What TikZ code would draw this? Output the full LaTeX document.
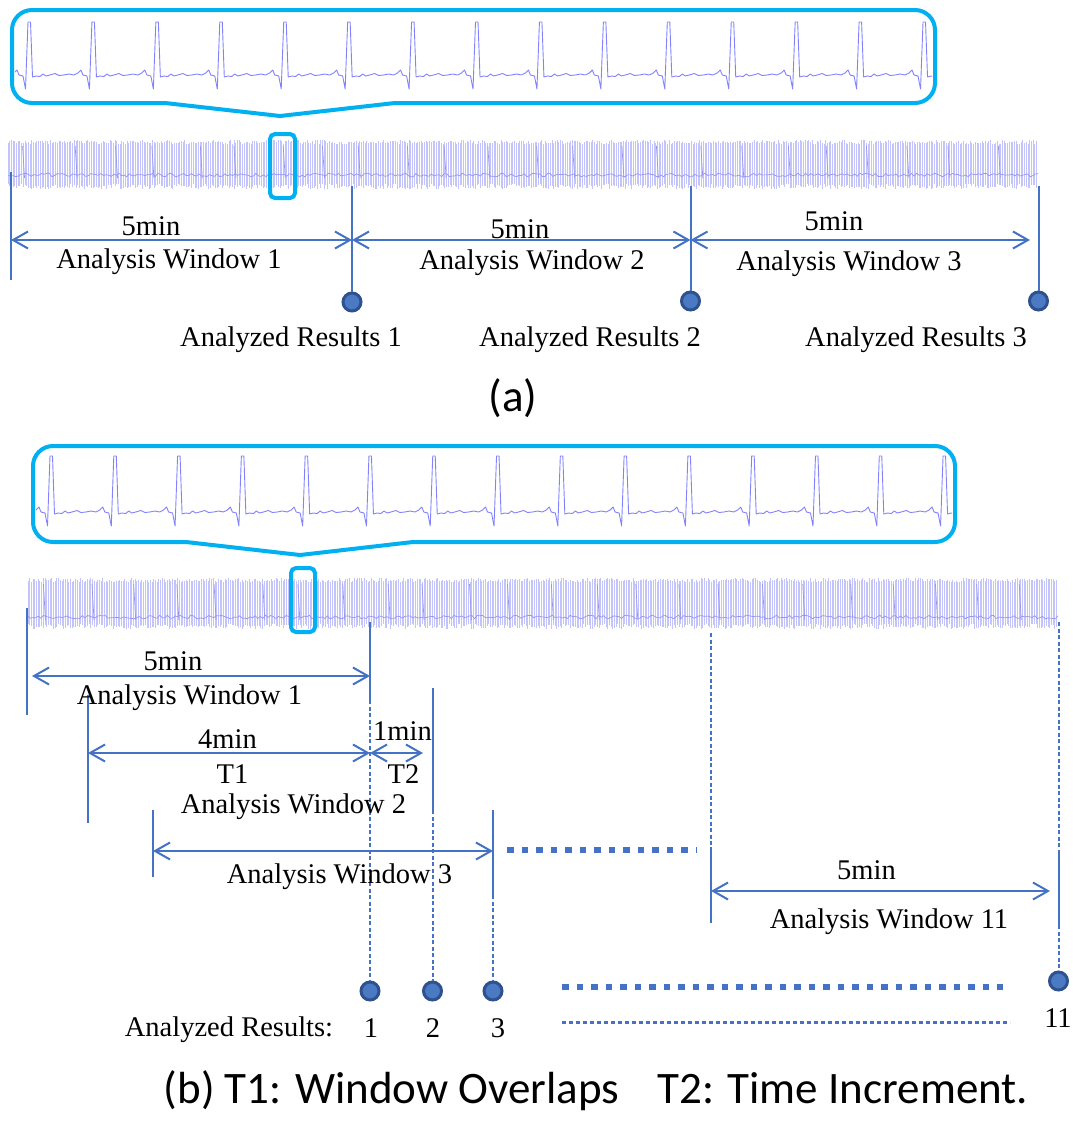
\documentclass[tikz,border=0pt]{standalone}
\usepackage{fontspec}
\setmainfont{Liberation Serif}
\newfontfamily\capfont{Carlito}
\usetikzlibrary{arrows.meta}

\definecolor{dimblue}{RGB}{68,114,196}
\definecolor{cyanbox}{RGB}{0,176,240}
\definecolor{ecg}{RGB}{130,130,255}
\definecolor{stripc}{RGB}{196,196,252}
\definecolor{stripd}{RGB}{150,150,242}
\definecolor{dotedge}{RGB}{47,82,143}
\definecolor{dotfill}{RGB}{74,122,196}

\tikzset{
  lbl/.style={anchor=base, inner sep=0pt, font=\fontsize{28.5}{34}\selectfont},
  caplbl/.style={anchor=base, inner sep=0pt, font=\capfont\fontsize{45}{50}\selectfont},
  dimline/.style={draw=dimblue, line width=2pt,
    {Straight Barb[length=15pt,width=17pt]}-{Straight Barb[length=15pt,width=17pt]}},
  marker/.style={draw=dimblue, line width=2pt},
  dashmarker/.style={draw=dimblue, line width=2pt, dash pattern=on 4pt off 2.5pt},
  result/.style={circle, draw=dotedge, fill=dotfill, line width=3pt, minimum size=18pt, inner sep=0pt},
  callout/.style={draw=cyanbox, line width=4pt, line join=round},
  zoombox/.style={draw=cyanbox, line width=4pt, rounded corners=5pt},
  trace/.style={draw=ecg, line width=0.9pt, line join=round},
  stripline/.style={draw=stripc, line width=0.9pt},
  stripwave/.style={draw=stripd, line width=0.7pt},
  bigdots/.style={draw=dimblue, line width=6.5pt, dash pattern=on 6.5pt off 8pt},
  smalldots/.style={draw=dimblue, line width=3pt, dash pattern=on 4pt off 3pt},
}

% one heartbeat: R-wave x, baseline y, R-peak y
\newcommand\heartbeat[3]{%
  \draw[trace] ({#1-20},#2) -- ({#1-16},{#2-2}) -- ({#1-13},{#2-5}) -- ({#1-11},#2)
    -- ({#1-7},{#2+1}) -- ({#1-4.5},{#2+14}) -- ({#1-2},#3) -- ({#1+0.5},#3)
    -- ({#1+2.5},{#2+2}) -- ({#1+6},{#2+1}) -- ({#1+10},{#2+1.5}) -- ({#1+13},{#2-1})
    -- ({#1+16},{#2+1}) -- ({#1+20},#2) -- ({#1+25},{#2-1.5}) -- ({#1+29},{#2+0.5})
    -- ({#1+34},#2) -- ({#1+39},{#2-1}) -- ({#1+43.9},#2);
}

% compressed long recording: first x, second x, last x, top y, bottom y, baseline y, spikes
\newcommand\ecgstrip[7]{%
  \foreach \xx in {#1,#2,...,#3}{
    \pgfmathsetmacro\ytop{#4+4*rnd}
    \pgfmathsetmacro\ybot{#5-5*rnd}
    \draw[stripline] (\xx,\ytop) -- (\xx,\ybot);
  }
  \draw[stripwave] plot[domain=#1:#3, samples=400] (\x,{#6+1.8*rand});
  \foreach \k in {0,...,#7}{
    \pgfmathsetmacro\sx{#1+14+42*\k+12*rnd}
    \draw[stripwave] (\sx,{#4+6}) -- ({\sx+2},{#6+3});
  }
}

\begin{document}
\begin{tikzpicture}[x=1pt,y=-1pt]
\useasboundingbox (0,0) rectangle (1073,1127);
\pgfmathsetseed{11}

% ---------------- (a) consecutive windows ----------------
\begin{scope}
  \clip (15,0) rectangle (932,120);
  \foreach \i in {0,...,14}{\heartbeat{30+63.93*\i}{75}{22}}
\end{scope}
\draw[callout] (165,103) -- (32,103) .. controls (21,103) and (12,94) .. (12,83)
  -- (12,30) .. controls (12,19) and (21,10) .. (32,10)
  -- (915,10) .. controls (926,10) and (935,19) .. (935,30)
  -- (935,83) .. controls (935,94) and (926,103) .. (915,103)
  -- (395,103) -- (280,116) -- cycle;

\ecgstrip{8}{9.7}{1038}{140}{189}{175}{23}
\draw[zoombox] (270,134) rectangle (295,198);

\coordinate (a0) at (11,240);
\coordinate (a1) at (352,240);
\coordinate (a2) at (690.5,240);
\coordinate (a3) at (1030,240);
\coordinate (a0t) at (11,172);
\coordinate (a0b) at (11,280);
\coordinate (a1t) at (352,186);
\coordinate (a2t) at (690.5,186);
\coordinate (a3t) at (1038.5,186);

\node[result] (ra1) at (352,302) {};
\node[result] (ra2) at (690.5,301) {};
\node[result] (ra3) at (1038.5,301) {};

\draw[marker] (a0t) -- (a0b);
\draw[marker] (a1t) -- (ra1);
\draw[marker] (a2t) -- (ra2);
\draw[marker] (a3t) -- (ra3);

\draw[dimline] (a0) -- (a1);
\draw[dimline] (a1) -- (a2);
\draw[dimline] (a2) -- (a3);

\node[lbl] (min1a) at (151,235) {5min};
\node[lbl] (win1a) at (169,268) {Analysis Window 1};
\node[lbl] (min2a) at (520,238) {5min};
\node[lbl] (win2a) at (532,269) {Analysis Window 2};
\node[lbl] (min3a) at (834,230) {5min};
\node[lbl] (win3a) at (849,270) {Analysis Window 3};
\node[lbl] (res1a) at (291,346) {Analyzed Results 1};
\node[lbl] (res2a) at (590,346) {Analyzed Results 2};
\node[lbl] (res3a) at (916,346) {Analyzed Results 3};
\node[caplbl] (capa) at (513,411) {(a)};

% ---------------- (b) overlapping windows ----------------
\begin{scope}
  \clip (36,430) rectangle (952,560);
  \foreach \i in {0,...,14}{\heartbeat{52+63.79*\i}{512}{456}}
\end{scope}
\draw[callout] (186,542) -- (53,542) .. controls (42,542) and (33,533) .. (33,522)
  -- (33,466) .. controls (33,455) and (42,446) .. (53,446)
  -- (935,446) .. controls (946,446) and (955,455) .. (955,466)
  -- (955,522) .. controls (955,533) and (946,542) .. (935,542)
  -- (413,542) -- (300,555) -- cycle;

\ecgstrip{28}{29.7}{1058}{578}{629}{617}{23}
\draw[zoombox] (291,568) rectangle (315,632);

% window boundaries
\coordinate (w1l) at (27,608);   \coordinate (w1lb) at (27,715);
\coordinate (w1r) at (370,622);  \coordinate (w1rm) at (370,700);
\coordinate (w2l) at (88,695);   \coordinate (w2lb) at (88,823);
\coordinate (w2r) at (432.5,688); \coordinate (w2rm) at (432.5,810);
\coordinate (w3l) at (153,810);  \coordinate (w3lb) at (153,877);
\coordinate (w3r) at (493,810);  \coordinate (w3rm) at (493,895);
\coordinate (w11l) at (711,633); \coordinate (w11lm) at (711,847); \coordinate (w11lb) at (711,923);
\coordinate (w11r) at (1058.5,622); \coordinate (w11rm) at (1058.5,850); \coordinate (w11rb) at (1058.5,925);

\node[result] (rb1) at (370,991) {};
\node[result] (rb2) at (432.5,991) {};
\node[result] (rb3) at (493,991) {};
\node[result] (rb11) at (1058.5,981) {};

\draw[marker] (w1l) -- (w1lb);
\draw[marker] (w1r) -- (w1rm);
\draw[dashmarker] (w1rm) -- (rb1);
\draw[marker] (w2l) -- (w2lb);
\draw[marker] (w2r) -- (w2rm);
\draw[dashmarker] (w2rm) -- (rb2);
\draw[marker] (w3l) -- (w3lb);
\draw[marker] (w3r) -- (w3rm);
\draw[dashmarker] (w3rm) -- (rb3);
\draw[dashmarker] (w11l) -- (w11lm);
\draw[marker] (w11lm) -- (w11lb);
\draw[dashmarker] (w11r) -- (w11rm);
\draw[marker] (w11rm) -- (w11rb);
\draw[dashmarker] (w11rb) -- (rb11);

% dimension arrows
\coordinate (d1a) at (32,676);   \coordinate (d1b) at (370,676);
\coordinate (d2a) at (88,753);   \coordinate (d2b) at (370,753);  \coordinate (d2c) at (423,753);
\coordinate (d3a) at (153,851);  \coordinate (d3b) at (493,851);
\coordinate (d11a) at (711,891); \coordinate (d11b) at (1050,891);
\draw[dimline] (d1a) -- (d1b);
\draw[dimline] (d2a) -- (d2b);
\draw[dimline] (d2b) -- (d2c);
\draw[dimline] (d3a) -- (d3b);
\draw[dimline] (d11a) -- (d11b);

% ellipsis lines
\coordinate (e1a) at (507,850);  \coordinate (e1b) at (697,850);
\coordinate (e2a) at (562,987);  \coordinate (e2b) at (1003,987);
\coordinate (e3a) at (562,1022); \coordinate (e3b) at (1010,1022);
\draw[bigdots] (e1a) -- (e1b);
\draw[bigdots] (e2a) -- (e2b);
\draw[smalldots] (e3a) -- (e3b);

\node[lbl] (min1b) at (173,670) {5min};
\node[lbl] (win1b) at (189.5,704) {Analysis Window 1};
\node[lbl] (min4b) at (227.5,748) {4min};
\node[lbl] (min1s) at (402.5,740) {1min};
\node[lbl] (t1b) at (232.5,783) {T1};
\node[lbl] (t2b) at (403.5,783) {T2};
\node[lbl] (win2b) at (293.5,813) {Analysis Window 2};
\node[lbl] (win3b) at (339.5,883) {Analysis Window 3};
\node[lbl] (min11b) at (866.5,879) {5min};
\node[lbl] (win11b) at (889,928) {Analysis Window 11};
\node[lbl] (resb) at (229,1036) {Analyzed Results:};
\node[lbl] (n1) at (371,1037) {1};
\node[lbl] (n2) at (433,1037) {2};
\node[lbl] (n3) at (498,1037) {3};
\node[lbl] (n11) at (1058,1027) {11};
\node[caplbl] (capb) at (596,1103) {(b) T1: Window Overlaps\hspace{38pt}T2: Time Increment.};
\end{tikzpicture}
\end{document}
